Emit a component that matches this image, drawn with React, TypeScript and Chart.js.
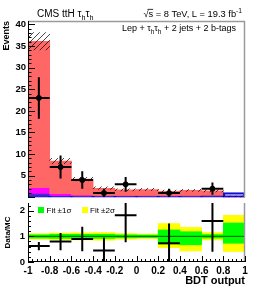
import React, { useEffect, useRef } from "react";
import { Chart, registerables } from "chart.js";
Chart.register(...registerables);

const FAMILY = "'Liberation Sans', Arial, Helvetica, sans-serif";

// ---------- data ----------
const binCenters = [-0.9, -0.7, -0.5, -0.3, -0.1, 0.1, 0.3, 0.5, 0.7, 0.9];
const xTickValues = [-1, -0.8, -0.6, -0.4, -0.2, 0, 0.2, 0.4, 0.6, 0.8, 1];
const xTickLabels = ["-1", "-0.8", "-0.6", "-0.4", "-0.2", "0", "0.2", "0.4", "0.6", "0.8", "1"];
const upperYTicks = [5, 10, 15, 20, 25, 30, 35, 40];
const ratioYTicks = [0, 1, 2];

// stacked backgrounds (upper panel)
const otherBkg = [0.9, 0.35, 0.3, 0.3, 0.3, 0.3, 0.3, 0.3, 0.3, 0];
const magentaBkg = [1.3, 0.5, 0.2, 0.1, 0.1, 0.1, 0.1, 0.1, 0.1, 0];
const redBkg = [33.9, 7.55, 3.7, 1.7, 1.3, 1.4, 1.0, 1.2, 1.1, 0];
const signalLine = [0.35, 0.3, 0.3, 0.3, 0.3, 0.3, 0.3, 0.3, 0.35, 1.1];
const mcUnc = [2.0, 0.6, 0.4, 0.3, 0.25, 0.25, 0.25, 0.25, 0.25, 0.3];

// observed data
const dataCounts = [23, 7, 4, 1, 3, null, 1, null, 2, null];
const dataErr = [4.8, 2.65, 2, 1, 1.7, 0, 1, 0, 1.4, 0];

// ratio panel
const ratioVals = [0.62, 0.8, 0.9, 0.45, 1.82, null, 0.73, null, 1.6, null];
const ratioErrLo = [0.16, 0.34, 0.48, 0.45, 1.05, 0, 0.73, 0, 1.2, 0];
const ratioErrHi = [0.16, 0.33, 0.47, 0.5, 1.05, 0, 0.77, 0, 1.2, 0];
const band1Lo = [0.93, 0.92, 0.92, 0.92, 0.94, 0.95, 0.7, 0.67, 0.93, 0.73];
const band1Hi = [1.06, 1.08, 1.08, 1.08, 1.06, 1.05, 1.25, 1.18, 1.07, 1.52];
const band2Lo = [0.89, 0.87, 0.86, 0.85, 0.89, 0.91, 0.56, 0.43, 0.86, 0.41];
const band2Hi = [1.1, 1.13, 1.14, 1.15, 1.11, 1.09, 1.5, 1.35, 1.15, 1.82];

// ---------- helpers ----------
type Part = { t: string; sub?: boolean; sup?: boolean; over?: boolean };
function drawRich(ctx: CanvasRenderingContext2D, parts: Part[], x: number, y: number, size: number, align: "left" | "right") {
  const f = (s: number) => `${s}px ${FAMILY}`;
  const widths = parts.map((p) => {
    ctx.font = f(p.sub || p.sup ? size * 0.72 : size);
    return ctx.measureText(p.t).width;
  });
  const total = widths.reduce((a, b) => a + b, 0);
  let cx = align === "right" ? x - total : x;
  ctx.textAlign = "left";
  ctx.textBaseline = "alphabetic";
  parts.forEach((p, i) => {
    const s = p.sub || p.sup ? size * 0.72 : size;
    ctx.font = f(s);
    const dy = p.sub ? size * 0.28 : p.sup ? -size * 0.42 : 0;
    ctx.fillText(p.t, cx, y + dy);
    if (p.over) {
      ctx.beginPath();
      ctx.lineWidth = 0.8;
      ctx.moveTo(cx - 1, y - size * 0.82);
      ctx.lineTo(cx + widths[i], y - size * 0.82);
      ctx.stroke();
    }
    cx += widths[i];
  });
}

function makeHatch(): CanvasPattern | string {
  const c = document.createElement("canvas");
  c.width = 6;
  c.height = 6;
  const g = c.getContext("2d");
  if (!g) return "rgba(0,0,0,0.3)";
  g.strokeStyle = "rgba(0,0,0,0.9)";
  g.lineWidth = 0.8;
  g.beginPath();
  g.moveTo(0, 6);
  g.lineTo(6, 0);
  g.moveTo(-1, 1);
  g.lineTo(1, -1);
  g.moveTo(5, 7);
  g.lineTo(7, 5);
  g.stroke();
  return g.createPattern(c, "repeat") || "rgba(0,0,0,0.3)";
}

const tickFont = (size: number) => ({ family: FAMILY, size, weight: "bold" as const });

function errorBarsPlugin(id: string, vals: (number | null)[], lo: number[], hi: number[]) {
  return {
    id,
    afterDatasetsDraw(chart: any) {
      const { ctx, chartArea: a, scales } = chart;
      const xs = scales.x, ys = scales.y;
      ctx.save();
      ctx.beginPath();
      ctx.rect(a.left, a.top, a.right - a.left, a.bottom - a.top);
      ctx.clip();
      ctx.strokeStyle = "#000";
      ctx.lineWidth = 2;
      ctx.beginPath();
      binCenters.forEach((c, i) => {
        const v = vals[i];
        if (v == null) return;
        const px = xs.getPixelForValue(c);
        const x0 = xs.getPixelForValue(c - 0.1);
        const x1 = xs.getPixelForValue(c + 0.1);
        const py = ys.getPixelForValue(v);
        ctx.moveTo(x0, py);
        ctx.lineTo(x1, py);
        ctx.moveTo(px, ys.getPixelForValue(v - lo[i]));
        ctx.lineTo(px, ys.getPixelForValue(v + hi[i]));
      });
      ctx.stroke();
      ctx.restore();
    },
  };
}

function upperConfig(): any {
  const navyTop = otherBkg.map((v) => v);
  const magTop = otherBkg.map((v, i) => v + magentaBkg[i]);
  const redTop = magTop.map((v, i) => v + redBkg[i]);
  const hatch = makeHatch();
  const framePlugin = {
    id: "upperFrame",
    afterDraw(chart: any) {
      const { ctx, chartArea: a, scales } = chart;
      const y = scales.y;
      ctx.save();
      ctx.lineWidth = 1.5;
      ctx.strokeStyle = "#9a9a9a";
      ctx.beginPath();
      ctx.moveTo(a.left, a.top + 0.5);
      ctx.lineTo(a.right, a.top + 0.5);
      ctx.moveTo(a.right - 0.5, a.top);
      ctx.lineTo(a.right - 0.5, a.bottom);
      ctx.stroke();
      ctx.strokeStyle = "#000";
      ctx.lineWidth = 1;
      ctx.beginPath();
      ctx.moveTo(a.left + 0.5, a.top);
      ctx.lineTo(a.left + 0.5, a.bottom);
      for (let v = 0; v <= 40; v += 1) {
        const py = Math.round(y.getPixelForValue(v)) + 0.5;
        const len = v % 5 === 0 ? 7 : 3.5;
        ctx.moveTo(a.left, py);
        ctx.lineTo(a.left + len, py);
      }
      ctx.stroke();
      // header texts
      ctx.fillStyle = "#000";
      ctx.strokeStyle = "#000";
      drawRich(ctx, [{ t: "CMS ttH τ" }, { t: "h", sub: true }, { t: "τ" }, { t: "h", sub: true }], 37, 17, 10, "left");
      drawRich(
        ctx,
        [{ t: "√" }, { t: "s", over: true }, { t: " = 8 TeV, L = 19.3 fb" }, { t: "-1", sup: true }],
        242,
        17,
        9.3,
        "right"
      );
      drawRich(
        ctx,
        [{ t: "Lep + τ" }, { t: "h", sub: true }, { t: "τ" }, { t: "h", sub: true }, { t: " + 2 jets + 2 b-tags" }],
        236,
        31,
        9,
        "right"
      );
      ctx.restore();
    },
  };

  return {
    type: "bar",
    data: {
      datasets: [
        {
          type: "line",
          showLine: false,
          data: binCenters.map((x, i) => ({ x, y: dataCounts[i] })).filter((p) => p.y != null),
          pointRadius: 2.5,
          pointBackgroundColor: "#000",
          pointBorderColor: "#000",
          order: 0,
        },
        {
          data: binCenters.map((x, i) => ({ x, y: [Math.max(0, redTop[i] - mcUnc[i]), redTop[i] + mcUnc[i]] })),
          backgroundColor: hatch,
          borderWidth: 0,
          order: 1,
        },
        {
          data: binCenters.map((x, i) => ({ x, y: [0, signalLine[i]] })),
          backgroundColor: "rgba(0,0,0,0)",
          borderColor: "#1010d0",
          borderWidth: 1.5,
          borderSkipped: false,
          order: 2,
        },
        {
          data: binCenters.map((x, i) => ({ x, y: [magTop[i], redTop[i]] })),
          backgroundColor: "#ff6666",
          borderWidth: 0,
          order: 3,
        },
        {
          data: binCenters.map((x, i) => ({ x, y: [navyTop[i], magTop[i]] })),
          backgroundColor: "#ff00ff",
          borderWidth: 0,
          order: 4,
        },
        {
          data: binCenters.map((x, i) => ({ x, y: [0, navyTop[i]] })),
          backgroundColor: "#4a2ad0",
          borderWidth: 0,
          order: 5,
        },
      ],
    },
    options: {
      animation: false,
      responsive: false,
      maintainAspectRatio: false,
      events: [],
      layout: { padding: { left: 0, top: 21, right: 13, bottom: 2 } },
      plugins: { legend: { display: false }, tooltip: { enabled: false } },
      datasets: { bar: { barPercentage: 1, categoryPercentage: 1, grouped: false } },
      scales: {
        x: {
          type: "linear",
          min: -1,
          max: 1,
          offset: false,
          display: false,
          grid: { display: false, drawTicks: false, offset: false },
          afterBuildTicks: (s: any) => {
            s.ticks = xTickValues.map((v) => ({ value: v }));
          },
        },
        y: {
          min: 0,
          max: 40.8,
          afterBuildTicks: (s: any) => {
            s.ticks = upperYTicks.map((v) => ({ value: v }));
          },
          afterFit: (s: any) => {
            s.width = 28;
          },
          grid: { display: false, drawTicks: false },
          border: { display: false },
          ticks: { font: tickFont(9.5), color: "#000", padding: 2 },
          title: {
            display: true,
            text: "Events",
            align: "end",
            color: "#000",
            font: tickFont(9),
            padding: { top: 1, bottom: 0 },
          },
        },
      },
    },
    plugins: [framePlugin, errorBarsPlugin("upErr", dataCounts, dataErr, dataErr)],
  };
}

function lowerConfig(): any {
  const framePlugin = {
    id: "lowerFrame",
    afterDraw(chart: any) {
      const { ctx, chartArea: a, scales } = chart;
      const x = scales.x, y = scales.y;
      ctx.save();
      ctx.lineWidth = 1.5;
      ctx.strokeStyle = "#9a9a9a";
      ctx.beginPath();
      ctx.moveTo(a.right - 0.5, a.top);
      ctx.lineTo(a.right - 0.5, a.bottom);
      ctx.stroke();
      ctx.strokeStyle = "#000";
      ctx.lineWidth = 1;
      ctx.beginPath();
      ctx.moveTo(a.left + 0.5, a.top);
      ctx.lineTo(a.left + 0.5, a.bottom);
      ctx.moveTo(a.left, a.bottom - 0.5);
      ctx.lineTo(a.right, a.bottom - 0.5);
      for (let k = 0; k <= 11; k++) {
        const v = k * 0.2;
        if (v > 2.3) break;
        const py = Math.round(y.getPixelForValue(v)) + 0.5;
        const len = k % 5 === 0 ? 6 : 3;
        ctx.moveTo(a.left, py);
        ctx.lineTo(a.left + len, py);
      }
      for (let k = 0; k <= 50; k++) {
        const v = -1 + k * 0.04;
        const px = Math.round(x.getPixelForValue(v)) + 0.5;
        const len = k % 5 === 0 ? 6 : 3;
        ctx.moveTo(px, a.bottom);
        ctx.lineTo(px, a.bottom - len);
      }
      ctx.stroke();
      // legend
      ctx.fillStyle = "#00ff00";
      ctx.fillRect(38, 17, 6, 6);
      ctx.fillStyle = "#ffff00";
      ctx.fillRect(82, 17, 6, 6);
      ctx.fillStyle = "#000";
      ctx.font = `8px ${FAMILY}`;
      ctx.textAlign = "left";
      ctx.textBaseline = "alphabetic";
      ctx.fillText("Fit ±1σ", 46.5, 23);
      ctx.fillText("Fit ±2σ", 90, 23);
      ctx.restore();
    },
  };
  return {
    type: "bar",
    data: {
      datasets: [
        {
          type: "line",
          showLine: false,
          data: binCenters.map((x, i) => ({ x, y: ratioVals[i] })).filter((p) => p.y != null),
          pointRadius: 0,
          order: 0,
        },
        {
          type: "line",
          data: [
            { x: -1, y: 1 },
            { x: 1, y: 1 },
          ],
          borderColor: "#005500",
          borderWidth: 1,
          pointRadius: 0,
          order: 1,
        },
        {
          data: binCenters.map((x, i) => ({ x, y: [band1Lo[i], band1Hi[i]] })),
          backgroundColor: "#00ff00",
          borderWidth: 0,
          order: 2,
        },
        {
          data: binCenters.map((x, i) => ({ x, y: [band2Lo[i], band2Hi[i]] })),
          backgroundColor: "#ffff00",
          borderWidth: 0,
          order: 3,
        },
      ],
    },
    options: {
      animation: false,
      responsive: false,
      maintainAspectRatio: false,
      events: [],
      layout: { padding: { left: 0, top: 13, right: 13, bottom: 0 } },
      plugins: { legend: { display: false }, tooltip: { enabled: false } },
      datasets: { bar: { barPercentage: 1, categoryPercentage: 1, grouped: false } },
      scales: {
        x: {
          type: "linear",
          min: -1,
          max: 1,
          offset: false,
          afterBuildTicks: (s: any) => {
            s.ticks = xTickValues.map((v) => ({ value: v }));
          },
          afterFit: (s: any) => {
            s.height = 28;
          },
          grid: { display: false, drawTicks: false, offset: false },
          border: { display: false },
          ticks: {
            font: tickFont(10),
            color: "#000",
            padding: 3,
            maxRotation: 0,
            autoSkip: false,
            callback: (_v: any, idx: number) => xTickLabels[idx],
          },
          title: {
            display: true,
            text: "BDT output",
            align: "end",
            color: "#000",
            font: tickFont(11),
            padding: { top: 2, bottom: 2 },
          },
        },
        y: {
          min: 0,
          max: 2.3,
          afterBuildTicks: (s: any) => {
            s.ticks = ratioYTicks.map((v) => ({ value: v }));
          },
          afterFit: (s: any) => {
            s.width = 28;
          },
          grid: { display: false, drawTicks: false },
          border: { display: false },
          ticks: { font: tickFont(9.5), color: "#000", padding: 3 },
          title: {
            display: true,
            text: "Data/MC",
            align: "center",
            color: "#000",
            font: tickFont(8),
            padding: { top: 3, bottom: 0 },
          },
        },
      },
    },
    plugins: [framePlugin, errorBarsPlugin("loErr", ratioVals, ratioErrLo, ratioErrHi)],
  };
}

export default function App() {
  const upRef = useRef<HTMLCanvasElement>(null);
  const loRef = useRef<HTMLCanvasElement>(null);
  useEffect(() => {
    const c1 = new Chart(upRef.current as HTMLCanvasElement, upperConfig());
    const c2 = new Chart(loRef.current as HTMLCanvasElement, lowerConfig());
    return () => {
      c1.destroy();
      c2.destroy();
    };
  }, []);
  return (
    <div style={{ position: "fixed", left: 0, top: 0, width: 258, height: 290, background: "#fff" }}>
      <canvas ref={upRef} width={258} height={205} style={{ position: "absolute", left: 0, top: 0 }} />
      <canvas ref={loRef} width={258} height={100} style={{ position: "absolute", left: 0, top: 190 }} />
    </div>
  );
}
